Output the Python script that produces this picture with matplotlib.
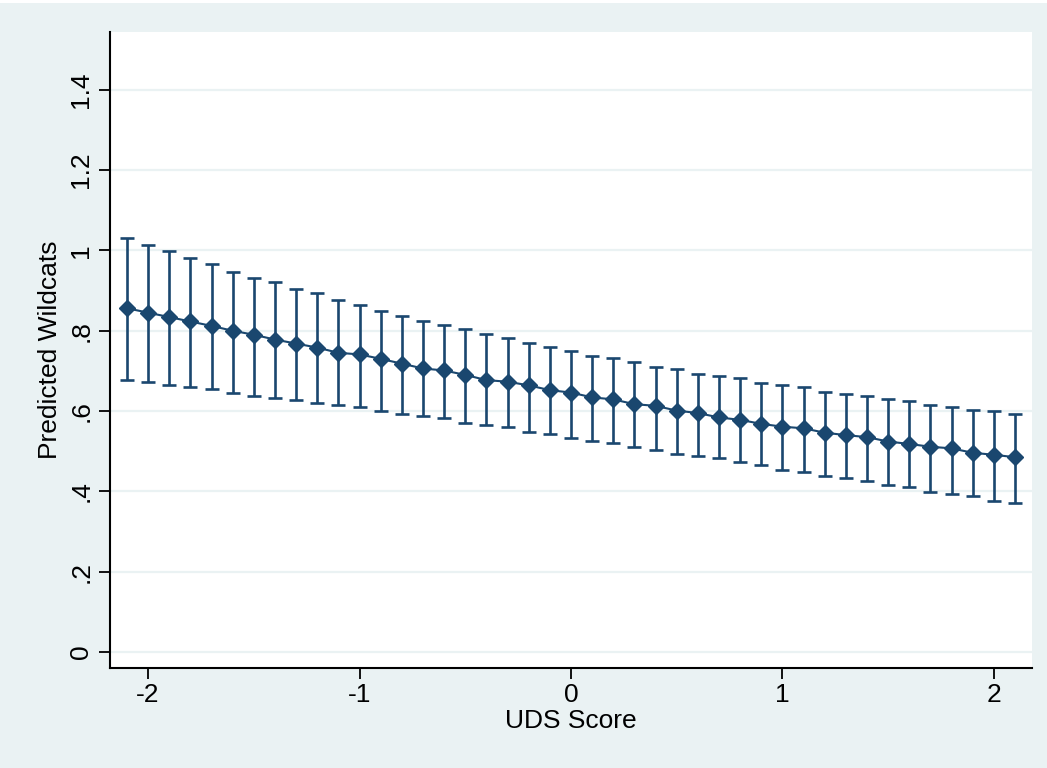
import matplotlib
matplotlib.use("Agg")
import matplotlib.pyplot as plt
from matplotlib.patches import Rectangle

# margins at UDS score = -2.1 ... 2.1
uds = [-2.1, -2.0, -1.9, -1.8, -1.7, -1.6, -1.5, -1.4, -1.3, -1.2, -1.1,
       -1.0, -0.9, -0.8, -0.7, -0.6, -0.5, -0.4, -0.3, -0.2, -0.1,
       0.0, 0.1, 0.2, 0.3, 0.4, 0.5, 0.6, 0.7, 0.8, 0.9,
       1.0, 1.1, 1.2, 1.3, 1.4, 1.5, 1.6, 1.7, 1.8, 1.9, 2.0, 2.1]
pred = [0.856, 0.845, 0.834, 0.823, 0.812, 0.800, 0.790, 0.778, 0.768, 0.758, 0.745,
        0.741, 0.730, 0.718, 0.706, 0.701, 0.690, 0.677, 0.673, 0.664, 0.652,
        0.646, 0.634, 0.629, 0.617, 0.613, 0.601, 0.595, 0.584, 0.578, 0.568,
        0.561, 0.557, 0.546, 0.540, 0.535, 0.524, 0.518, 0.511, 0.507, 0.496, 0.491, 0.485]
upper = [1.030, 1.014, 0.999, 0.982, 0.965, 0.947, 0.932, 0.921, 0.904, 0.893, 0.876,
         0.864, 0.848, 0.837, 0.825, 0.814, 0.804, 0.793, 0.781, 0.770, 0.760,
         0.749, 0.737, 0.731, 0.722, 0.710, 0.704, 0.692, 0.687, 0.682, 0.671,
         0.665, 0.659, 0.648, 0.643, 0.637, 0.631, 0.626, 0.614, 0.609, 0.603, 0.599, 0.592]
lower = [0.677, 0.672, 0.666, 0.659, 0.654, 0.644, 0.637, 0.632, 0.627, 0.621, 0.614,
         0.609, 0.599, 0.593, 0.587, 0.582, 0.571, 0.565, 0.560, 0.549, 0.543,
         0.532, 0.526, 0.521, 0.511, 0.504, 0.493, 0.488, 0.482, 0.472, 0.466,
         0.454, 0.448, 0.438, 0.433, 0.426, 0.415, 0.410, 0.399, 0.394, 0.388, 0.377, 0.372]

xticks = [-2, -1, 0, 1, 2]
yticks = [0, 0.2, 0.4, 0.6, 0.8, 1.0, 1.2, 1.4]
ylabels = ["0", ".2", ".4", ".6", ".8", "1", "1.2", "1.4"]

navy = "#1a476f"
bg = "#eaf2f3"

plt.rcParams['font.family'] = ['Liberation Sans', 'DejaVu Sans']

fig = plt.figure(figsize=(10.47, 7.68), dpi=100, facecolor=bg)
fig.patches.append(Rectangle((0, 0.996), 1, 0.004, transform=fig.transFigure,
                             facecolor="white", edgecolor="none"))
ax = fig.add_axes([110/1047, 1 - 668/768, 922/1047, 636/768])
ax.set_facecolor("white")

yerr = [[p - l for p, l in zip(pred, lower)], [u - p for u, p in zip(upper, pred)]]
ax.errorbar(uds, pred, yerr=yerr, fmt="none", ecolor=navy, elinewidth=1.9,
            capsize=5, capthick=1.9, zorder=2)
ax.plot(uds, pred, color=navy, lw=1.5, marker="D", markersize=8.5,
        markerfacecolor=navy, markeredgecolor=navy, zorder=3)

ax.set_xlim(-2.18, 2.18)
ax.set_ylim(-0.04, 1.544)
ax.set_xticks(xticks)
ax.set_xticklabels([str(t) for t in xticks])
ax.set_yticks(yticks)
ax.set_yticklabels(ylabels, rotation=90, va="center")

ax.grid(axis="y", color=bg, lw=1.6)
ax.set_axisbelow(True)

for s in ["top", "right"]:
    ax.spines[s].set_visible(False)
for s in ["left", "bottom"]:
    ax.spines[s].set_linewidth(1.5)
    ax.spines[s].set_color("black")

ax.tick_params(axis="both", length=8, width=1.3, labelsize=19, colors="black")
ax.tick_params(axis="x", pad=3)
ax.tick_params(axis="y", pad=4)

ax.set_xlabel("UDS Score", fontsize=19, labelpad=1)
ax.set_ylabel("Predicted Wildcats", fontsize=19, labelpad=5)

fig.savefig("out.png", dpi=100, facecolor=bg)
